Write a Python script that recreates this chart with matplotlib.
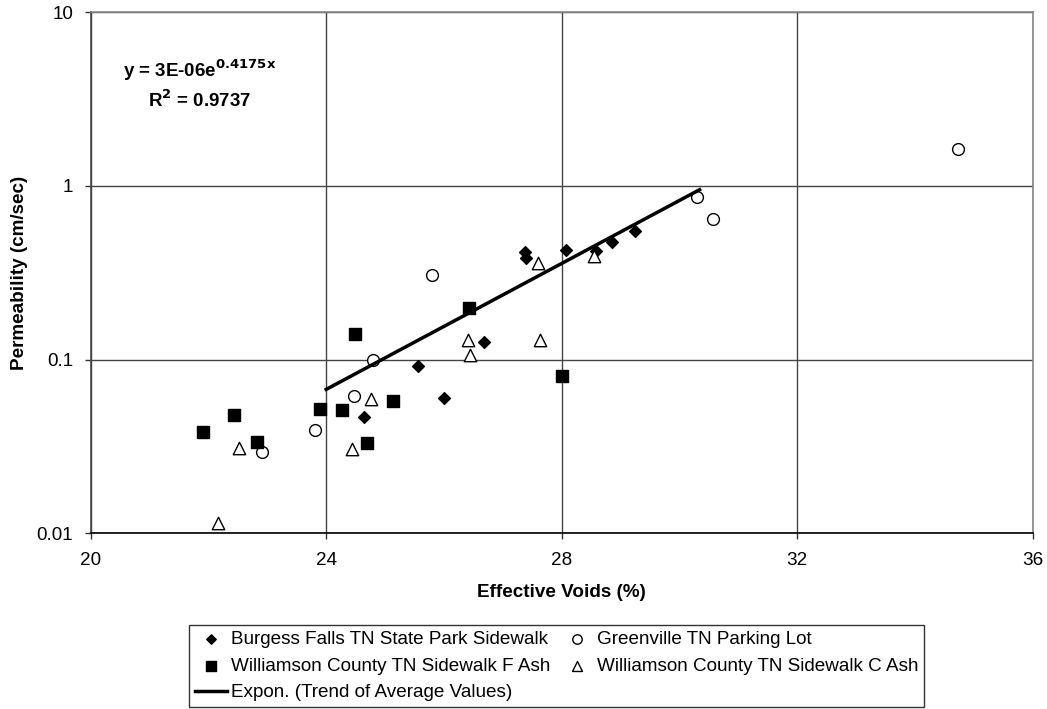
import numpy as np
import matplotlib.pyplot as plt
from matplotlib.ticker import FixedLocator, NullLocator

plt.rcParams['font.family'] = ['Liberation Sans', 'DejaVu Sans']

# Burgess Falls TN State Park Sidewalk
bf_x = [24.65, 25.56, 26.00, 26.68, 27.38, 27.40, 28.07, 28.58, 28.86, 29.24]
bf_y = [0.0465, 0.0917, 0.0605, 0.126, 0.415, 0.383, 0.428, 0.42, 0.478, 0.552]

# Greenville TN Parking Lot
gv_x = [22.91, 23.81, 24.48, 24.79, 25.79, 30.30, 30.56, 34.73]
gv_y = [0.0292, 0.0392, 0.0616, 0.0993, 0.307, 0.868, 0.645, 1.63]

# Williamson County TN Sidewalk F Ash
wf_x = [21.90, 22.44, 22.82, 23.89, 24.27, 24.49, 25.14, 24.70, 26.42, 28.01]
wf_y = [0.0384, 0.0483, 0.0336, 0.0523, 0.0511, 0.140, 0.0576, 0.0332, 0.197, 0.0803]

# Williamson County TN Sidewalk C Ash
wc_x = [22.52, 22.17, 24.76, 24.43, 26.41, 26.44, 27.63, 27.59, 28.54]
wc_y = [0.031, 0.0115, 0.0592, 0.0304, 0.129, 0.106, 0.129, 0.361, 0.395]

# trend of average values: y = a*exp(b*x)
trend_a = 3e-06
trend_b = 0.4175
trend_range = [24.0, 30.34]

fs = 13.6

fig = plt.figure(figsize=(10.47, 7.09), dpi=100)
ax = fig.add_axes([0.0866, 0.2478, 0.8999, 0.7349])

ax.scatter(bf_x, bf_y, marker='D', s=36, color='black', zorder=3,
           label='Burgess Falls TN State Park Sidewalk')
ax.scatter(gv_x, gv_y, marker='o', s=72, facecolors='white', edgecolors='black',
           linewidths=1.0, zorder=3, label='Greenville TN Parking Lot')
ax.scatter(wf_x, wf_y, marker='s', s=72, color='black', zorder=3,
           label='Williamson County TN Sidewalk F Ash')
ax.scatter(wc_x, wc_y, marker='^', s=80, facecolors='white', edgecolors='black',
           linewidths=1.0, zorder=3, label='Williamson County TN Sidewalk C Ash')

tx = np.linspace(trend_range[0], trend_range[1], 50)
ax.plot(tx, trend_a * np.exp(trend_b * tx), color='black', lw=2.5, zorder=4,
        label='Expon. (Trend of Average Values)')

ax.set_yscale('log')
ax.set_xlim(20, 36)
ax.set_ylim(0.01, 10)
ax.xaxis.set_major_locator(FixedLocator([20, 24, 28, 32, 36]))
ax.yaxis.set_major_locator(FixedLocator([0.01, 0.1, 1, 10]))
ax.yaxis.set_minor_locator(NullLocator())
ax.set_yticklabels(['0.01', '0.1', '1', '10'])
ax.tick_params(axis='both', labelsize=fs, length=4.5, width=1, color='#333333')
ax.tick_params(axis='y', pad=8)
ax.tick_params(axis='x', pad=9)

ax.grid(True, color='#444444', lw=1)
ax.set_axisbelow(True)
ax.spines['left'].set_color('#444444')
ax.spines['bottom'].set_color('black')
ax.spines['top'].set_color('#888888')
ax.spines['right'].set_color('#888888')
for s in ax.spines.values():
    s.set_linewidth(1.2)

ax.set_xlabel('Effective Voids (%)', fontsize=fs, fontweight='bold', labelpad=11)
ax.set_ylabel('Permeability (cm/sec)', fontsize=fs, fontweight='bold', labelpad=6)

ax.text(0.116, 0.889, r'y = 3E-06e$^{\mathbf{0.4175x}}$', transform=ax.transAxes,
        fontsize=13.5, fontweight='bold', ha='center', va='center')
ax.text(0.116, 0.832, r'R$^{\mathbf{2}}$ = 0.9737', transform=ax.transAxes,
        fontsize=13.5, fontweight='bold', ha='center', va='center')

h, l = ax.get_legend_handles_labels()
order = [0, 2, 4, 1, 3]
leg = fig.legend([h[i] for i in order], [l[i] for i in order], ncol=2,
                 loc='upper left', bbox_to_anchor=(189 / 1047, 1 - 625 / 709),
                 fontsize=fs, frameon=True, fancybox=False, edgecolor='black',
                 borderpad=0.3, handlelength=1.7, handletextpad=0.2,
                 columnspacing=0.6, labelspacing=0.5, borderaxespad=0,
                 markerscale=0.8)
leg.get_frame().set_linewidth(1.0)

fig.savefig('out.png', dpi=100)
